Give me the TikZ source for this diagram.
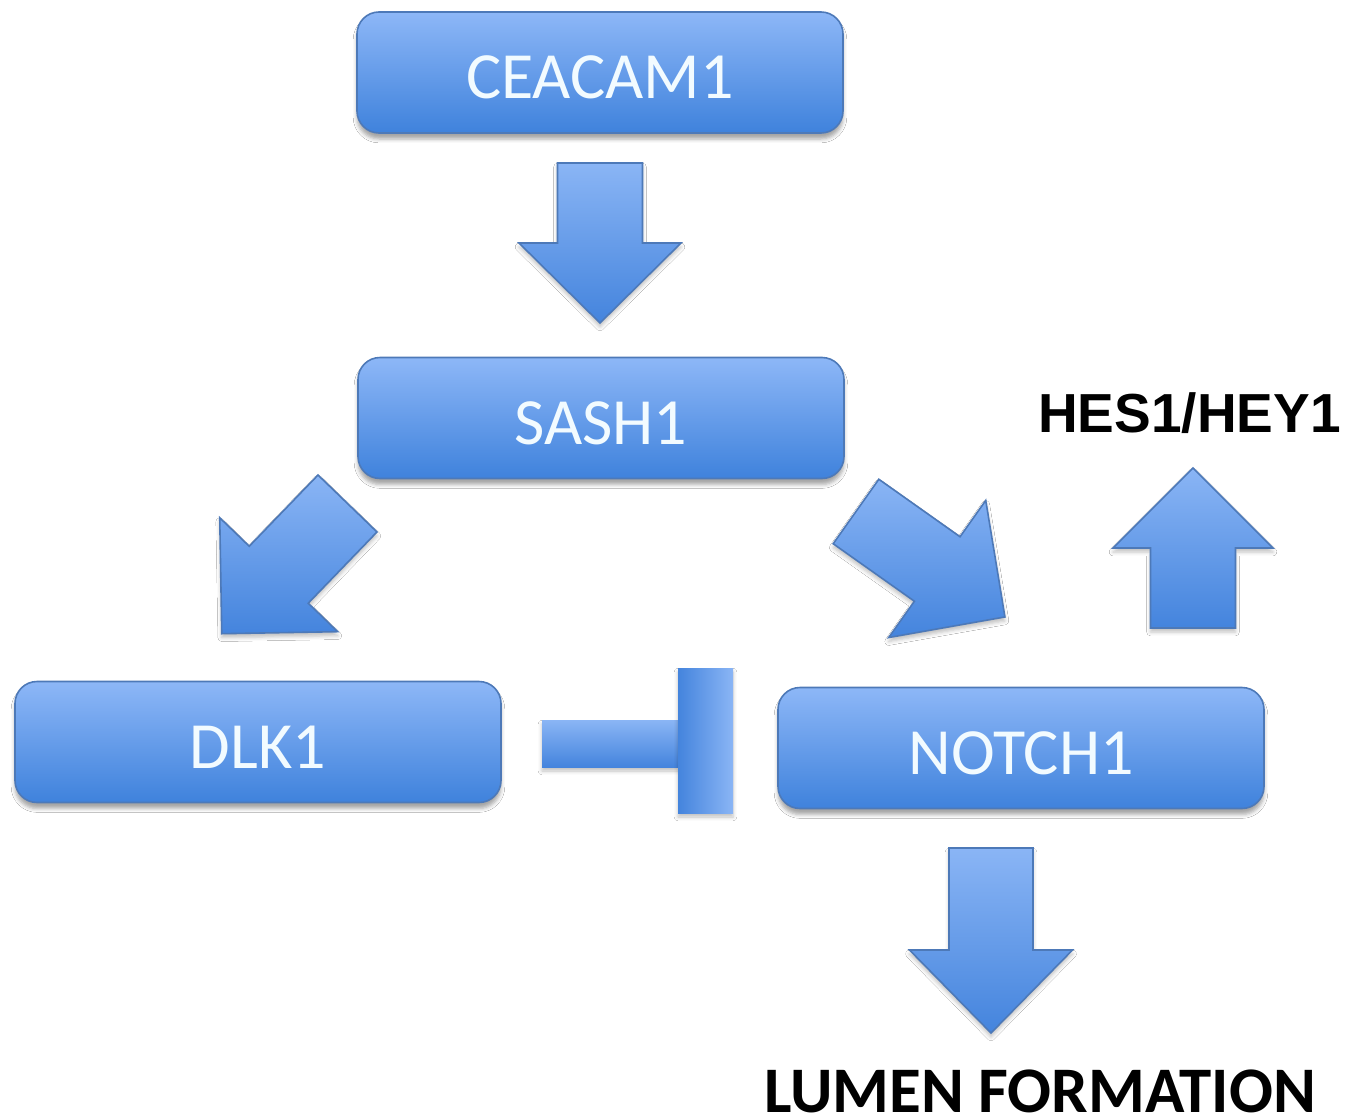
\documentclass[tikz,border=0pt]{standalone}
\usepackage{fontspec}
\setmainfont{Carlito}
\newfontfamily\arialfont{Liberation Sans}
\usetikzlibrary{shadows.blur}
\definecolor{boxtop}{HTML}{8DB7F7}
\definecolor{boxbot}{HTML}{3F82DC}
\definecolor{boxedge}{HTML}{4D79B8}
\definecolor{arrtop}{HTML}{8AB5F5}
\definecolor{arrbot}{HTML}{4484DD}
\definecolor{labelwhite}{HTML}{F2FBFF}
\tikzset{
  genebox/.style={rectangle, rounded corners=11pt, minimum width=243pt, minimum height=60.5pt,
    top color=boxtop, bottom color=boxbot, draw=boxedge, line width=0.8pt,
    font=\fontsize{33}{33}\selectfont, text=labelwhite, text height=26.4pt, text depth=0pt, inner sep=0pt,
    blur shadow={shadow xshift=0pt, shadow yshift=-3pt, shadow opacity=35}},
  blockarrow/.style={top color=arrtop, bottom color=arrbot, draw=boxedge, line width=0.8pt, line join=miter,
    blur shadow={shadow xshift=0pt, shadow yshift=-2pt, shadow opacity=25}},
  inhibh/.style={top color=arrtop, bottom color=arrbot, draw=none,
    blur shadow={shadow xshift=0pt, shadow yshift=-2pt, shadow opacity=25}},
  inhibv/.style={left color=arrbot, right color=arrtop, draw=none,
    blur shadow={shadow xshift=0pt, shadow yshift=-2pt, shadow opacity=25}},
  blacklabel/.style={inner sep=0pt, text depth=0pt, text=black}
}
% tail x, tail y, angle, shaft length, shaft width, head width, head length
\newcommand{\blockarr}[7]{%
  \path[blockarrow, shift={(#1,#2)}, rotate=#3]
    (0,{#5/2}) -- (#4,{#5/2}) -- (#4,{#6/2}) -- ({#4+#7},0) -- (#4,{-#6/2}) -- (#4,{-#5/2}) -- (0,{-#5/2}) -- cycle;}
\begin{document}
\begin{tikzpicture}[x=0.5pt, y=-0.5pt]
  \useasboundingbox (0,0) rectangle (1361,1119);
  \fill[white] (0,0) rectangle (1361,1119);

  % boxes
  \node[genebox] (ceacam) at (600,72.5) {CEACAM1};
  \node[genebox] (sash)   at (601,418) {SASH1};
  \node[genebox] (dlk)    at (258,742) {DLK1};
  \node[genebox] (notch)  at (1021,748) {NOTCH1};

  % labels
  \node[blacklabel, font=\arialfont\bfseries\fontsize{27.5}{27.5}\selectfont, text height=19.7pt] (hes) at (1189.5,413) {HES1/HEY1};
  \node[blacklabel, font=\bfseries\fontsize{32.5}{32.5}\selectfont, text height=20.5pt] (lumen) at (1040,1092) {LUMEN FORMATION};

  % block arrows
  \blockarr{600}{163}{-90}{80}{85}{162}{80}      % CEACAM1 -> SASH1
  \blockarr{347.5}{503.5}{-134}{99}{82}{164}{82} % SASH1 -> DLK1
  \blockarr{856}{511.5}{-35.3}{99.5}{79}{168}{83}% SASH1 -> NOTCH1
  \blockarr{1193}{628}{90}{80}{85}{160}{80}      % NOTCH1 -> HES1/HEY1
  \blockarr{991}{848}{-90}{102}{84}{163}{83}     % NOTCH1 -> lumen formation

  % inhibition DLK1 --| NOTCH1
  \path[inhibh] (542,720) rectangle (679,767);
  \path[inhibv] (678,668) rectangle (733,813);
\end{tikzpicture}
\end{document}
